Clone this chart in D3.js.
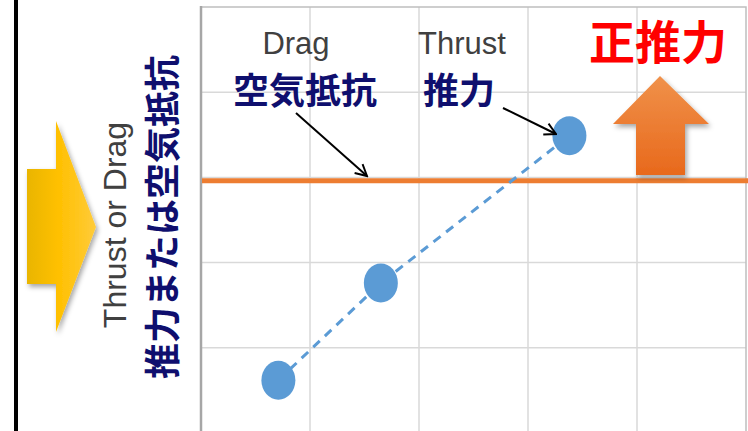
<!DOCTYPE html>
<html lang="ja">
<head>
    <meta charset="UTF-8">
    <title>Thrust or Drag</title>
    <script type="text/javascript" src="https://cdn.jsdelivr.net/npm/d3@7/dist/d3.min.js"></script>
    <style>
        body { margin: 0; background: #fff; }
        svg { display: block; }
    </style>
</head>
<body>
<script type="text/javascript">
    const width = 748, height = 431;

    // データ
    const xTicks = [0, 1, 2, 3, 4, 5];
    const yTicks = [0, 1, 2, 3, 4, 5];
    const thrustX = [0.71, 1.65, 3.38];
    const thrustY = [0.62, 1.76, 3.49];
    const dragLevel = [2.96];
    const labelsEn = ['Drag', 'Thrust'];
    const labelsJa = ['空気抵抗', '推力'];
    const axisTitleEn = 'Thrust or Drag';
    const axisTitleJa = '推力または空気抵抗';
    const bigLabel = '正推力';

    const x = d3.scaleLinear().domain([0, 5]).range([201, 746]);
    const y = d3.scaleLinear().domain([0, 5]).range([433, 7]);

    const svg = d3.select('body').append('svg')
        .attr('width', width)
        .attr('height', height);

    const defs = svg.append('defs');
    const gy = defs.append('linearGradient').attr('id', 'gYellow')
        .attr('x1', 0).attr('x2', 1).attr('y1', 0).attr('y2', 0);
    gy.append('stop').attr('offset', '0%').attr('stop-color', '#E9B500');
    gy.append('stop').attr('offset', '45%').attr('stop-color', '#FFC000');
    gy.append('stop').attr('offset', '100%').attr('stop-color', '#FFCB3A');
    const go = defs.append('linearGradient').attr('id', 'gOrange')
        .attr('x1', 0).attr('x2', 0).attr('y1', 0).attr('y2', 1);
    go.append('stop').attr('offset', '0%').attr('stop-color', '#F0914A');
    go.append('stop').attr('offset', '100%').attr('stop-color', '#E8691C');
    const sh = defs.append('filter').attr('id', 'shadow')
        .attr('x', '-30%').attr('y', '-30%').attr('width', '160%').attr('height', '160%');
    sh.append('feDropShadow').attr('dx', 2).attr('dy', 3).attr('stdDeviation', 2.5)
        .attr('flood-color', '#000').attr('flood-opacity', 0.35);
    defs.append('marker').attr('id', 'openArrow')
        .attr('viewBox', '0 0 10 10').attr('refX', 9).attr('refY', 5)
        .attr('markerWidth', 15).attr('markerHeight', 15).attr('orient', 'auto')
        .attr('markerUnits', 'userSpaceOnUse')
        .append('path').attr('d', 'M1.5,1 L9,5 L1.5,9')
        .attr('fill', 'none').attr('stroke', '#000').attr('stroke-width', 1.3);

    // 左端の黒い縦線
    svg.append('line')
        .attr('x1', 16).attr('x2', 16).attr('y1', 0).attr('y2', height)
        .attr('stroke', '#000').attr('stroke-width', 4);

    // グリッド
    const grid = svg.append('g').attr('stroke', '#D9D9D9').attr('stroke-width', 1.5);
    grid.selectAll('.gx').data(xTicks.slice(1, -1)).enter().append('line')
        .attr('x1', d => x(d)).attr('x2', d => x(d))
        .attr('y1', y(5)).attr('y2', height);
    grid.selectAll('.gy').data(yTicks.slice(1, -1)).enter().append('line')
        .attr('x1', x(0)).attr('x2', x(5))
        .attr('y1', d => y(d)).attr('y2', d => y(d));

    // 枠
    svg.append('path')
        .attr('d', `M${x(0)},${y(5)} H${x(5)} V${height}`)
        .attr('fill', 'none').attr('stroke', '#BFBFBF').attr('stroke-width', 1.5);
    svg.append('line')
        .attr('x1', x(0)).attr('x2', x(0)).attr('y1', y(5) - 1).attr('y2', height)
        .attr('stroke', '#A6A6A6').attr('stroke-width', 2.5);

    // 空気抵抗（水平線）
    svg.selectAll('.drag').data(dragLevel).enter().append('line')
        .attr('x1', x(0) + 1).attr('x2', width)
        .attr('y1', d => y(d)).attr('y2', d => y(d))
        .attr('stroke', '#ED7D31').attr('stroke-width', 5);

    // 推力（破線と点）
    const pts = thrustX.map((v, i) => [v, thrustY[i]]);
    svg.append('path')
        .datum(pts)
        .attr('d', d3.line().x(d => x(d[0])).y(d => y(d[1])))
        .attr('fill', 'none').attr('stroke', '#5B9BD5')
        .attr('stroke-width', 3).attr('stroke-dasharray', '9,7');
    svg.selectAll('.pt').data(pts).enter().append('ellipse')
        .attr('cx', d => x(d[0])).attr('cy', d => y(d[1]))
        .attr('rx', 17).attr('ry', 19.5)
        .attr('fill', '#5B9BD5');

    // 上向き矢印（正推力）
    svg.append('path')
        .attr('d', 'M660,76 L709,124 L685,124 L685,175 L636,175 L636,124 L613,124 Z')
        .attr('fill', 'url(#gOrange)').attr('filter', 'url(#shadow)');

    // 右向き矢印（左側）
    svg.append('path')
        .attr('d', 'M27,169 L56,169 L56,121 L96,227 L56,332 L56,284 L27,284 Z')
        .attr('fill', 'url(#gYellow)').attr('filter', 'url(#shadow)');

    // テキスト
    const latin = '"Liberation Sans", Arial, sans-serif';
    const cjk = '"Noto Sans CJK JP", sans-serif';

    svg.selectAll('.en').data(labelsEn).enter().append('text')
        .attr('x', (d, i) => i === 0 ? 296 : 462).attr('y', 54)
        .attr('text-anchor', 'middle')
        .attr('font-family', latin).attr('font-size', 31)
        .attr('fill', '#404040').text(d => d);
    svg.selectAll('.ja').data(labelsJa).enter().append('text')
        .attr('x', (d, i) => i === 0 ? 305 : 459).attr('y', 104)
        .attr('text-anchor', 'middle')
        .attr('font-family', cjk).attr('font-weight', 'bold').attr('font-size', 36)
        .attr('fill', '#0F0F6E').text(d => d);

    svg.append('text')
        .attr('x', 658).attr('y', 59)
        .attr('text-anchor', 'middle')
        .attr('font-family', cjk).attr('font-weight', 'bold').attr('font-size', 46)
        .attr('fill', '#FF0000').text(bigLabel);

    svg.append('text')
        .attr('transform', 'translate(126,225) rotate(-90)')
        .attr('text-anchor', 'middle')
        .attr('font-family', latin).attr('font-size', 32)
        .attr('fill', '#404040').text(axisTitleEn);
    svg.append('text')
        .attr('transform', 'translate(176,217) rotate(-90)')
        .attr('text-anchor', 'middle')
        .attr('font-family', cjk).attr('font-weight', 'bold').attr('font-size', 36)
        .attr('fill', '#0F0F6E').text(axisTitleJa);

    // 注記の矢印
    const notes = [[296, 113, 367, 176], [503, 108, 556, 134]];
    svg.selectAll('.note').data(notes).enter().append('line')
        .attr('x1', d => d[0]).attr('y1', d => d[1])
        .attr('x2', d => d[2]).attr('y2', d => d[3])
        .attr('stroke', '#000').attr('stroke-width', 2)
        .attr('marker-end', 'url(#openArrow)');
</script>
</body>
</html>
